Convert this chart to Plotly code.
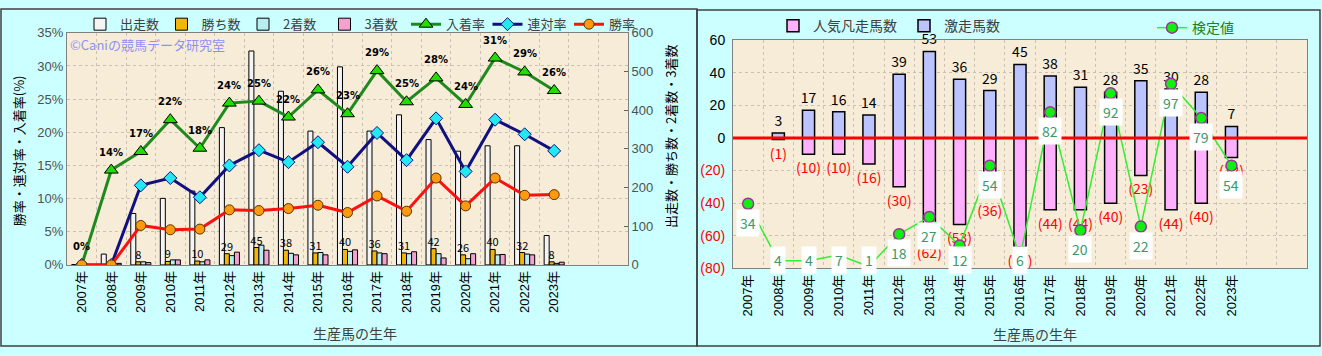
import plotly.graph_objects as go

# ---------------- data ----------------
years = ["2007年", "2008年", "2009年", "2010年", "2011年", "2012年", "2013年", "2014年",
         "2015年", "2016年", "2017年", "2018年", "2019年", "2020年", "2021年", "2022年", "2023年"]
blank_cats = [" ", "  "]

runs = [1, 28, 133, 172, 191, 355, 553, 449, 346, 512, 346, 388, 324, 294, 308, 308, 76]
wins = [0, 0, 8, 9, 10, 29, 45, 38, 31, 40, 36, 31, 42, 26, 40, 32, 8]
seconds = [0, 0, 8, 13, 8, 24, 51, 30, 32, 35, 31, 29, 29, 16, 26, 28, 4]
thirds = [0, 4, 6, 13, 13, 33, 38, 26, 26, 39, 29, 34, 18, 29, 27, 26, 7]

place_rate = [0, 14.3, 17.1, 21.9, 17.6, 24.4, 24.7, 22.3, 26.4, 22.8, 29.3, 24.6, 28.2, 24.2, 31.2, 29.1, 26.3]
quinella_rate = [0, 0, 12.0, 13.1, 10.2, 15.0, 17.3, 15.5, 18.5, 14.8, 19.9, 15.8, 22.1, 14.1, 21.9, 19.7, 17.2]
win_rate = [0, 0, 5.95, 5.3, 5.4, 8.3, 8.2, 8.5, 9.0, 7.9, 10.4, 8.1, 13.1, 8.9, 13.1, 10.5, 10.6]

geki = [0, 3, 17, 16, 14, 39, 53, 36, 29, 45, 38, 31, 28, 35, 30, 28, 7]
bonsou = [0, 1, 10, 10, 16, 30, 62, 53, 36, 67, 44, 44, 40, 23, 44, 40, 12]
kentei = [34, 4, 4, 7, 1, 18, 27, 12, 54, 6, 82, 20, 92, 22, 97, 79, 54]

left_ticks = [0, 5, 10, 15, 20, 25, 30, 35]
right_ticks = [0, 100, 200, 300, 400, 500, 600]
r_ticks = [60, 40, 20, 0, -20, -40, -60, -80]

# ---------------- figure ----------------
W, H = 1322, 356
FONT = "Noto Sans CJK JP, Liberation Sans, sans-serif"
cats = years + blank_cats

def px_x(v):
    return v / W

def px_y(v):
    return 1 - v / H

fig = go.Figure()

# Left chart bars (on count axis y)
bar_specs = [
    ("出走数", runs, "#F4F4F4", -0.34),
    ("勝ち数", wins, "#F2B705", -0.17),
    ("2着数", seconds, "#B8EEF0", 0.0),
    ("3着数", thirds, "#F4A0D0", 0.17),
]
for name, vals, col, off in bar_specs:
    kw = {}
    if name == "勝ち数":
        kw = dict(text=[str(v) if v else "" for v in vals], textposition="outside",
                  textangle=0, constraintext="none", cliponaxis=False,
                  textfont=dict(size=11, color="#000000", family=FONT))
    fig.add_trace(go.Bar(x=years, y=vals, name=name, xaxis="x", yaxis="y",
                         marker=dict(color=col, line=dict(color="#000000", width=1)),
                         width=0.17, offset=off, legend="legend", **kw))

# Left chart lines (on percent axis y2)
fig.add_trace(go.Scatter(x=years, y=place_rate, name="入着率", xaxis="x", yaxis="y2",
                         mode="lines+markers", line=dict(color="#1E8A1E", width=3),
                         marker=dict(symbol="triangle-up", size=12, color="#22DD00",
                                     line=dict(color="#000000", width=1)), legend="legend"))
fig.add_trace(go.Scatter(x=years, y=quinella_rate, name="連対率", xaxis="x", yaxis="y2",
                         mode="lines+markers", line=dict(color="#101080", width=3),
                         marker=dict(symbol="diamond", size=10, color="#22E8F0",
                                     line=dict(color="#101080", width=1)), legend="legend"))
fig.add_trace(go.Scatter(x=years, y=win_rate, name="勝率", xaxis="x", yaxis="y2",
                         mode="lines+markers", line=dict(color="#FF1010", width=3),
                         marker=dict(symbol="circle", size=10, color="#FF9A10",
                                     line=dict(color="#553300", width=1)), legend="legend"))

# Right chart bars
fig.add_trace(go.Bar(x=years, y=[-v for v in bonsou], name="人気凡走馬数", xaxis="x2", yaxis="y3",
                     marker=dict(color="#FFB0FF", line=dict(color="#000000", width=1.5)),
                     width=0.4, offset=-0.2, legend="legend2",
                     text=[f"({v})" if v else "" for v in bonsou], textposition="outside",
                     textangle=0, constraintext="none", cliponaxis=False,
                     textfont=dict(size=14, color="#FF0000", family=FONT)))
fig.add_trace(go.Bar(x=years, y=geki, name="激走馬数", xaxis="x2", yaxis="y3",
                     marker=dict(color="#BCC4FF", line=dict(color="#000000", width=1.5)),
                     width=0.4, offset=-0.2, legend="legend2",
                     text=[str(v) if v else "" for v in geki], textposition="outside",
                     textangle=0, constraintext="none", cliponaxis=False,
                     textfont=dict(size=14, color="#000000", family=FONT)))

# Right chart line
fig.add_trace(go.Scatter(x=years, y=kentei, name="検定値", xaxis="x2", yaxis="y4",
                         mode="lines+markers", line=dict(color="#33EE33", width=1.5),
                         marker=dict(symbol="circle", size=11, color="#11EE11",
                                     line=dict(color="#993399", width=1.5)),
                         legend="legend3", cliponaxis=False))

annotations = []
# 入着率 labels
for c, v in zip(years, place_rate):
    annotations.append(dict(x=c, y=v, xref="x", yref="y2", text=f"<b>{v:.0f}%</b>", showarrow=False,
                            yshift=18, font=dict(size=10, color="#000000", family="DejaVu Sans")))
# 検定値 labels
for c, v in zip(years, kentei):
    annotations.append(dict(x=c, y=max(v - 10, 4.6), xref="x2", yref="y4", text=str(v),
                            showarrow=False, bgcolor="#FFFFFF", borderpad=3,
                            font=dict(size=14, color="#3A9A6A", family=FONT)))

# watermark and titles
annotations += [
    dict(x=px_x(68), y=px_y(38), xref="paper", yref="paper", xanchor="left", yanchor="middle",
         text="©Caniの競馬データ研究室", showarrow=False,
         font=dict(size=13, color="#9090F4", family=FONT)),
    dict(x=px_x(18), y=px_y(150), xref="paper", yref="paper", xanchor="center", yanchor="middle",
         text="勝率・連対率・入着率(%)",
         textangle=-90, showarrow=False, font=dict(size=13, color="#000000", family=FONT)),
    dict(x=px_x(671), y=px_y(135), xref="paper", yref="paper", xanchor="center", yanchor="middle",
         text="出走数・勝ち数・2着数・3着数",
         textangle=-90, showarrow=False, font=dict(size=13, color="#000000", family=FONT)),
    dict(x=px_x(355), y=px_y(340), xref="paper", yref="paper", xanchor="center", yanchor="middle",
         text="生産馬の生年",
         showarrow=False, font=dict(size=14, color="#404040", family=FONT)),
    dict(x=px_x(1035), y=px_y(341), xref="paper", yref="paper", xanchor="center", yanchor="middle",
         text="生産馬の生年",
         showarrow=False, font=dict(size=14, color="#404040", family=FONT)),
]

shapes = [
    dict(type="rect", xref="paper", yref="paper", x0=px_x(1), x1=px_x(697), y0=px_y(354), y1=px_y(1),
         line=dict(color="#404040", width=1.5), layer="above"),
    dict(type="rect", xref="paper", yref="paper", x0=px_x(697), x1=px_x(1320), y0=px_y(354), y1=px_y(2),
         line=dict(color="#404040", width=1.5), layer="above"),
    dict(type="line", xref="x2 domain", yref="y3", x0=0, x1=1, y0=0, y1=0,
         line=dict(color="#FF0000", width=3), layer="above"),
]

grid = dict(showgrid=True, gridcolor="#C9C2B4", griddash="dot", gridwidth=1)
xcommon = dict(type="category", categoryorder="array", categoryarray=cats, range=[-0.5, 18.5],
               tickson="boundaries", ticks="", tickangle=-90,
               tickfont=dict(size=13, color="#000000", family="Liberation Sans, Noto Sans CJK JP"),
               showline=True, linecolor="#808080", linewidth=1, mirror=True, **grid)

fig.update_layout(
    width=W, height=H, margin=dict(l=0, r=0, t=0, b=0),
    paper_bgcolor="#CCFFFF", plot_bgcolor="#F7ECD7",
    font=dict(family=FONT),
    showlegend=True,
    xaxis=dict(domain=[px_x(67), px_x(628)], anchor="y", **xcommon),
    yaxis=dict(domain=[px_y(269), px_y(26)], anchor="x", side="right", range=[0, 600],
               tickvals=right_ticks, showgrid=False, zeroline=False, ticks="inside", ticklen=4,
               tickcolor="#606060", tickfont=dict(size=13, color="#505050", family="Liberation Sans"),
               showline=True, linecolor="#808080", mirror=True),
    yaxis2=dict(overlaying="y", anchor="x", side="left", range=[0, 35], tickvals=left_ticks,
                ticktext=[f"{t}%" for t in left_ticks], zeroline=False, ticks="",
                tickfont=dict(size=13, color="#505050", family="Liberation Sans"),
                showline=True, linecolor="#808080", **grid),
    xaxis2=dict(domain=[px_x(733), px_x(1307)], anchor="y3", **xcommon),
    yaxis3=dict(domain=[px_y(272.7), px_y(33.5)], anchor="x2", range=[-80, 60], tickvals=r_ticks,
                ticktext=["60", "40", "20", "0",
                          "<span style='color:#FF0000'>(20)</span>",
                          "<span style='color:#FF0000'>(40)</span>",
                          "<span style='color:#FF0000'>(60)</span>",
                          "<span style='color:#FF0000'>(80)</span>"],
                zeroline=False, ticks="", ticklabelstandoff=4,
                tickfont=dict(size=14, color="#000000", family="Liberation Sans"),
                showline=True, linecolor="#808080", mirror=True, **grid),
    yaxis4=dict(overlaying="y3", anchor="x2", range=[0, 120], visible=False, showgrid=False),
    legend=dict(orientation="h", x=px_x(80), xanchor="left", y=px_y(17), yanchor="middle",
                entrywidth=36.5, itemwidth=30, bgcolor="rgba(0,0,0,0)", traceorder="normal",
                font=dict(size=13, color="#404040", family=FONT)),
    legend2=dict(orientation="h", x=px_x(773), xanchor="left", y=px_y(19), yanchor="middle",
                 entrywidth=86, itemwidth=30, bgcolor="rgba(0,0,0,0)", traceorder="normal",
                 font=dict(size=14, color="#404040", family=FONT)),
    legend3=dict(orientation="h", x=px_x(1152), xanchor="left", y=px_y(21), yanchor="middle",
                 itemwidth=30, bgcolor="rgba(0,0,0,0)",
                 font=dict(size=14, color="#208020", family=FONT)),
    annotations=annotations, shapes=shapes,
)

fig.write_html("out.html", config={"displayModeBar": False},
               post_script="document.body.style.margin='0px';")
